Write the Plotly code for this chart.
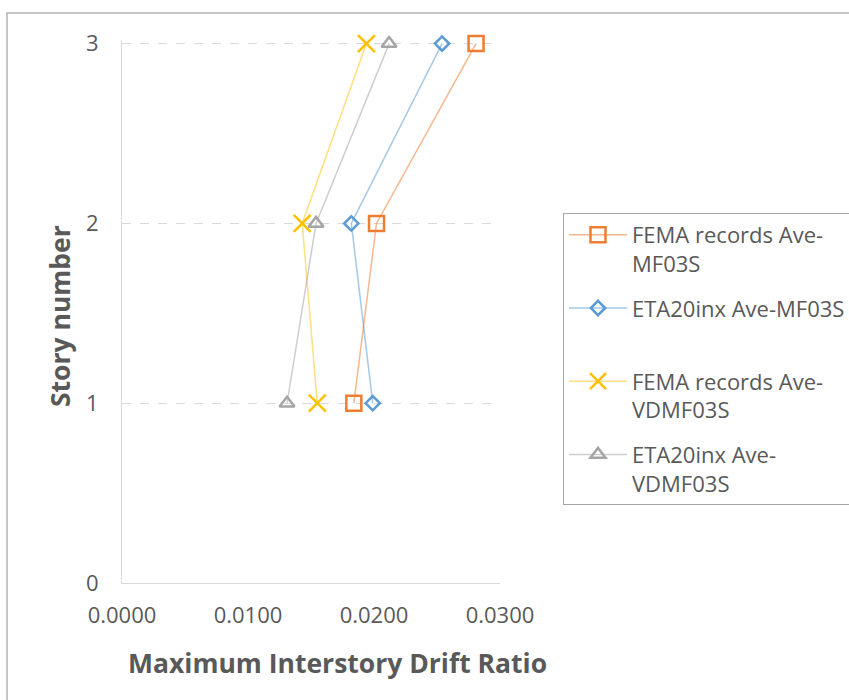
import plotly.graph_objects as go

# Story levels and average maximum interstory drift ratios per record set
stories = [1, 2, 3]
fema_mf03s = [0.0184, 0.0202, 0.0281]
eta_mf03s = [0.0199, 0.0182, 0.0254]
fema_vdmf03s = [0.0155, 0.0143, 0.0194]
eta_vdmf03s = [0.0131, 0.0154, 0.0212]

series_names = [
    "FEMA records Ave-<br>MF03S",
    "ETA20inx Ave-MF03S<br> ",
    "FEMA records Ave-<br>VDMF03S",
    "ETA20inx Ave-<br>VDMF03S",
]
x_ticks = [0.0, 0.01, 0.02, 0.03]
y_ticks = [0, 1, 2, 3]

FONT = "Open Sans, Lato, sans-serif"
TEXT = "#595959"

styles = [
    dict(sym="square-open", size=15, color="#ed7d31", line="rgba(237,125,49,0.55)"),
    dict(sym="diamond-open", size=11, color="#5b9bd5", line="rgba(91,155,213,0.55)"),
    dict(sym="x-thin", size=17, color="#ffc000", line="rgba(255,192,0,0.5)"),
    dict(sym="triangle-up-open", size=13, color="#a5a5a5", line="rgba(165,165,165,0.55)"),
]

fig = go.Figure()
for i, (vals, name, st) in enumerate(zip([fema_mf03s, eta_mf03s, fema_vdmf03s, eta_vdmf03s],
                                          series_names, styles)):
    fig.add_trace(go.Scatter(
        x=vals, y=stories, name=name, mode="lines+markers",
        legendgroup=f"g{i}", cliponaxis=False,
        line=dict(color=st["line"], width=1.5),
        marker=dict(symbol=st["sym"], size=st["size"], color=st["color"],
                    line=dict(color=st["color"], width=2.5)),
    ))

# plot area: x 122..500 px, y 40..583 px (range 0..3.02 keeps the 3 gridline inside)
fig.update_layout(
    width=849, height=700,
    margin=dict(l=122, r=349, t=40, b=117),
    paper_bgcolor="white", plot_bgcolor="white",
    font=dict(family=FONT, size=22, color=TEXT),
    showlegend=True,
    legend=dict(
        xref="container", yref="container", x=563 / 849, y=1 - 213 / 700,
        xanchor="left", yanchor="top",
        bordercolor="#a6a6a6", borderwidth=1, bgcolor="white",
        font=dict(family=FONT, size=22, color=TEXT),
        valign="top", tracegroupgap=13, traceorder="grouped", itemwidth=58,
    ),
    xaxis=dict(
        range=[0, 0.03], tickvals=x_ticks, tickformat=".4f",
        showgrid=False, zeroline=False,
        showline=True, linecolor="#d9d9d9", linewidth=1,
        ticks="", ticklabelstandoff=13,
        tickfont=dict(family=FONT, size=22, color=TEXT),
    ),
    yaxis=dict(
        range=[0, 3.02], tickvals=y_ticks,
        showgrid=True, gridcolor="#d9d9d9", griddash="dash", gridwidth=1,
        zeroline=False,
        showline=True, linecolor="#d9d9d9", linewidth=1,
        ticks="", ticklabelstandoff=18,
        tickfont=dict(family=FONT, size=22, color=TEXT),
    ),
    shapes=[dict(
        type="rect", xref="paper", yref="paper",
        x0=(7 - 122) / 378, x1=(870 - 122) / 378,
        y0=(583 - 720) / 543, y1=(583 - 13) / 543,
        line=dict(color="#b4b4b4", width=1.5), fillcolor="rgba(0,0,0,0)", layer="below",
    )],
    annotations=[
        dict(text="<b>Maximum Interstory Drift Ratio</b>", xref="paper", yref="paper",
             x=(337 - 122) / 378, y=(583 - 663) / 543, xanchor="center", yanchor="middle",
             showarrow=False, font=dict(family=FONT, size=26.5, color=TEXT)),
        dict(text="<b>Story number</b>", xref="paper", yref="paper",
             x=(60 - 122) / 378, y=(583 - 316) / 543, xanchor="center", yanchor="middle",
             textangle=-90, showarrow=False, font=dict(family=FONT, size=26.5, color=TEXT)),
    ],
)

fig.write_html("out.html")
